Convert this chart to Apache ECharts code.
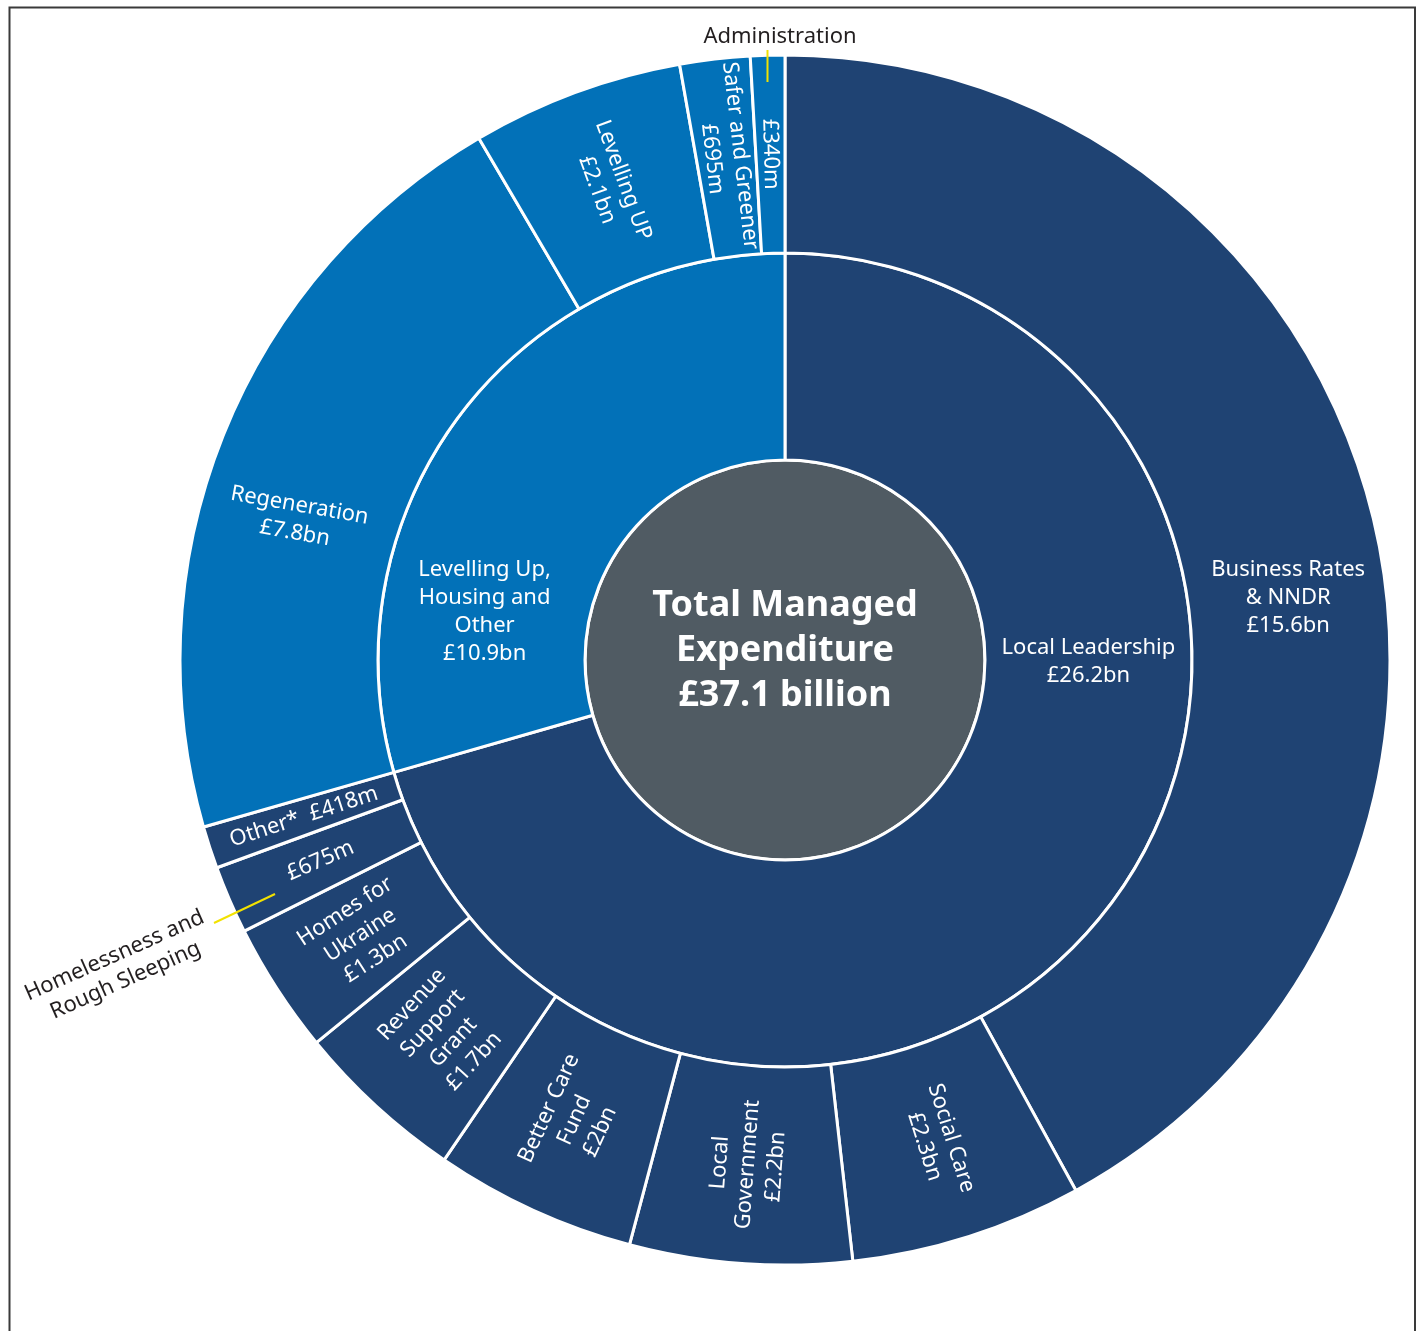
<!DOCTYPE html>
<html lang="en">
<head>
    <meta charset="UTF-8">
    <script src="https://cdn.jsdelivr.net/npm/echarts@6/dist/echarts.min.js"></script>
    <style>
        html, body { margin: 0; padding: 0; background: #fff; }
        #main { width: 1423px; height: 1331px; }
    </style>
</head>
<body>
    <div id="main"></div>
</body>
<script>
    // values in £bn
    var totalText = 'Total Managed\nExpenditure\n£37.1 billion';

    var groupNames = ['Local Leadership', 'Levelling Up, Housing and Other'];
    var groupText = ['Local Leadership\n£26.2bn', 'Levelling Up,\nHousing and\nOther\n£10.9bn'];

    var leadershipNames = ['Business Rates & NNDR', 'Social Care', 'Local Government', 'Better Care Fund',
        'Revenue Support Grant', 'Homes for Ukraine', 'Homelessness and Rough Sleeping', 'Other*'];
    var leadershipValues = [15.6, 2.3, 2.2, 2.0, 1.7, 1.3, 0.675, 0.418];
    var leadershipText = ['Business Rates\n& NNDR\n£15.6bn', 'Social Care\n£2.3bn', 'Local\nGovernment\n£2.2bn',
        'Better Care\nFund\n£2bn', 'Revenue\nSupport\nGrant\n£1.7bn', 'Homes for\nUkraine\n£1.3bn', '£675m', 'Other*  £418m'];

    var levellingNames = ['Regeneration', 'Levelling UP', 'Safer and Greener', 'Administration'];
    var levellingValues = [7.8, 2.1, 0.695, 0.34];
    var levellingText = ['Regeneration\n£7.8bn', 'Levelling UP\n£2.1bn', 'Safer and Greener\n£695m', '£340m'];

    var navy = '#1f4373';
    var blue = '#0271b8';
    var grey = '#505b63';
    var groupColors = [navy, blue];

    // labels that sit away from the slice middle in the original:
    // padding moves them sideways, an empty spacer line moves them up/down
    var labelTweaks = {
        'Total Managed Expenditure': { rotate: 0, gapBelow: 18 },
        'Local Leadership': { rotate: 0, padding: [0, 0, 0, 122], gapBelow: 362 },
        'Levelling Up, Housing and Other': { rotate: 0, padding: [0, 116, 0, 0], gapAbove: 268 },
        'Business Rates & NNDR': { rotate: 0, padding: [0, 0, 0, 26], gapAbove: 126 },
        'Regeneration': { rotate: -10, padding: [0, 19, 0, 0], gapAbove: 99 }
    };

    function makeNode(name, value, text, color, children) {
        var tw = labelTweaks[name];
        var label = { formatter: text };
        if (tw) {
            label.rotate = tw.rotate;
            if (tw.padding) label.padding = tw.padding;
            var rich = {};
            if (tw.gapAbove) {
                label.formatter = '{up| }\n' + text;
                rich.up = { lineHeight: tw.gapAbove, fontSize: 2 };
            }
            if (tw.gapBelow) {
                label.formatter = text + '\n{down| }';
                rich.down = { lineHeight: tw.gapBelow, fontSize: 2 };
            }
            label.rich = rich;
        }
        var node = { name: name, itemStyle: { color: color }, label: label };
        if (children) node.children = children;
        else node.value = value;
        return node;
    }

    function makeChildren(names, values, texts, color) {
        var out = [];
        for (var i = 0; i < names.length; i++) {
            out.push(makeNode(names[i], values[i], texts[i], color));
        }
        return out;
    }

    var tree = [makeNode('Total Managed Expenditure', null, totalText, grey, [
        makeNode(groupNames[0], null, groupText[0], groupColors[0],
            makeChildren(leadershipNames, leadershipValues, leadershipText, groupColors[0])),
        makeNode(groupNames[1], null, groupText[1], groupColors[1],
            makeChildren(levellingNames, levellingValues, levellingText, groupColors[1]))
    ])];

    var font = '"Noto Sans", "Open Sans", sans-serif';

    var myChart = echarts.init(document.getElementById('main'));
    var option = {
        animation: false,
        graphic: [
            {
                type: 'polyline',
                shape: { points: [[9.5, 1340], [9.5, 7.5], [1415, 7.5], [1415, 1340]] },
                style: { stroke: '#3a3a3a', lineWidth: 2, fill: null }
            },
            {
                type: 'text', x: 780, y: 37,
                style: { text: 'Administration', fontSize: 22, fontFamily: font, fill: '#231f20',
                    align: 'center', verticalAlign: 'middle' }
            },
            {
                type: 'line', shape: { x1: 767.5, y1: 50, x2: 767.5, y2: 82 },
                style: { stroke: '#f2e200', lineWidth: 2 }, z: 10
            },
            {
                type: 'text', x: 120, y: 968, rotation: 24 * Math.PI / 180,
                style: { text: 'Homelessness and\nRough Sleeping', fontSize: 22, lineHeight: 27,
                    fontFamily: font, fill: '#231f20', align: 'center', verticalAlign: 'middle' }
            },
            {
                type: 'line', shape: { x1: 214, y1: 923, x2: 275, y2: 894 },
                style: { stroke: '#f2e200', lineWidth: 2 }, z: 10
            }
        ],
        series: [{
            type: 'sunburst',
            center: [785, 660],
            sort: null,
            silent: true,
            nodeClick: false,
            emphasis: { disabled: true },
            data: tree,
            itemStyle: { borderColor: '#fff', borderWidth: 3 },
            label: { color: '#fff', fontFamily: font, fontSize: 22, lineHeight: 28 },
            levels: [
                {},
                {
                    r0: 0, r: 200,
                    label: { rotate: 0, fontSize: 36, fontWeight: 'bold', lineHeight: 45 }
                },
                { r0: 200, r: 407, label: { rotate: 0 } },
                { r0: 407, r: 605, label: { rotate: 'radial' } }
            ]
        }]
    };
    myChart.setOption(option);
</script>
</html>
